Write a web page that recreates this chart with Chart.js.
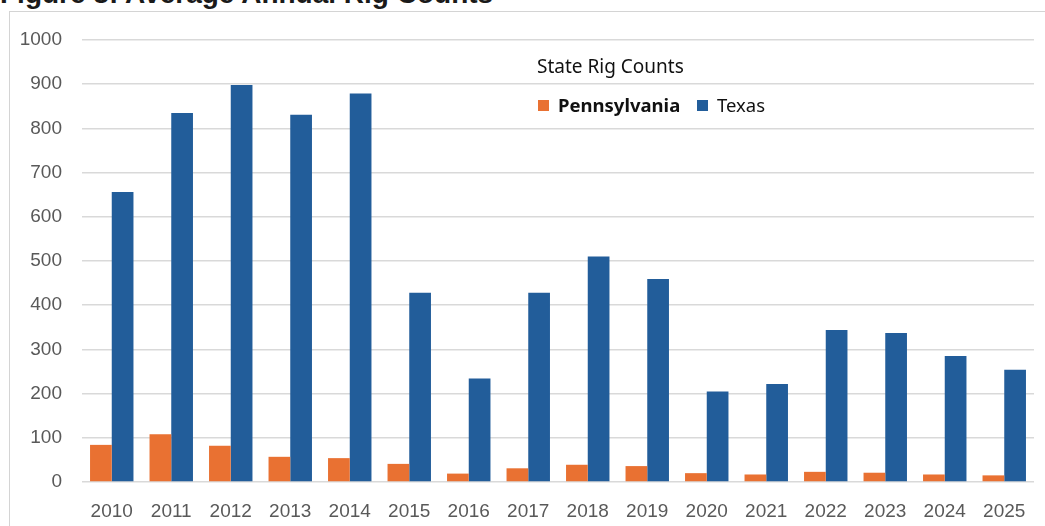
<!DOCTYPE html>
<html>
<head>
<meta charset="utf-8">
<script src="https://cdn.jsdelivr.net/npm/chart.js@4"></script>
<style>
  html, body { margin: 0; padding: 0; background: #fff; overflow: hidden; }
  #wrap { position: relative; width: 1045px; height: 526px; }
  #title {
    position: absolute; left: 0; top: -20px; margin: 0;
    font: bold 28px/28px "Liberation Sans", Arial, sans-serif; color: #1a1a1a; white-space: nowrap;
  }
  #frame {
    position: absolute; left: 9px; top: 11px; width: 1060px; height: 540px;
    border: 1px solid #d4d4d4; box-sizing: border-box;
  }
  #chart { position: absolute; left: 0; top: 0; }
</style>
</head>
<body>
<div id="wrap">
  <div id="title">Figure 8: Average Annual Rig Counts</div>
  <div id="frame"></div>
  <canvas id="chart" width="1045" height="526"></canvas>
</div>
<script>
// Conteo anual promedio de equipos de perforación.
const YEARS = ["2010", "2011", "2012", "2013", "2014", "2015", "2016", "2017",
               "2018", "2019", "2020", "2021", "2022", "2023", "2024", "2025"];
const PENNSYLVANIA = [84, 108, 82, 57, 54, 41, 19, 31, 39, 36, 20, 17, 23, 21, 17, 15];
const TEXAS = [656, 835, 898, 831, 879, 428, 234, 428, 510, 459, 205, 222, 344, 337, 285, 254];
const LEGEND_TITLE = "State Rig Counts";

const COLORS = { pa: "#E97132", tx: "#225D9A", grid: "#d9d9d9", tick: "#595959" };
const TICK_FONT = { family: "'Liberation Sans', Arial, sans-serif", size: 19 };

// Leyenda dentro del área del gráfico, como en el original.
const insideLegend = {
  id: "insideLegend",
  afterDraw(chart) {
    const ctx = chart.ctx;
    ctx.save();
    ctx.textBaseline = "alphabetic";
    ctx.fillStyle = "#111";
    ctx.font = "19px 'Noto Sans', sans-serif";
    ctx.fillText(LEGEND_TITLE, 537, 73);

    const items = [
      { label: chart.data.datasets[0].label, color: COLORS.pa, x: 538, bold: true },
      { label: chart.data.datasets[1].label, color: COLORS.tx, x: 697, bold: false },
    ];
    for (const it of items) {
      ctx.fillStyle = it.color;
      ctx.fillRect(it.x, 100, 11, 11);
      ctx.fillStyle = "#111";
      ctx.font = (it.bold ? "bold " : "") + "18.5px 'Noto Sans', sans-serif";
      ctx.fillText(it.label, it.x + 20, 112);
    }
    ctx.restore();
  },
};

new Chart(document.getElementById("chart"), {
  type: "bar",
  data: {
    labels: YEARS,
    datasets: [
      { label: "Pennsylvania", data: PENNSYLVANIA, backgroundColor: COLORS.pa, borderWidth: 0 },
      { label: "Texas", data: TEXAS, backgroundColor: COLORS.tx, borderWidth: 0 },
    ],
  },
  options: {
    responsive: false,
    animation: false,
    layout: { padding: { left: 0, right: 11, top: 40, bottom: 0 } },
    datasets: { bar: { categoryPercentage: 0.73, barPercentage: 1 } },
    plugins: { legend: { display: false }, tooltip: { enabled: false } },
    scales: {
      x: {
        grid: { display: false, drawTicks: false },
        border: { display: false },
        ticks: { color: COLORS.tick, font: TICK_FONT, padding: 18, maxRotation: 0 },
        afterFit: (s) => { s.height = 44; },
      },
      y: {
        min: 0,
        max: 1000,
        ticks: { stepSize: 100, color: COLORS.tick, font: TICK_FONT, padding: 20, callback: (v) => String(v) },
        grid: { color: COLORS.grid, lineWidth: 1.5, drawTicks: false },
        border: { display: false },
        afterFit: (s) => { s.width = 82; },
      },
    },
  },
  plugins: [insideLegend],
});
</script>
</body>
</html>
